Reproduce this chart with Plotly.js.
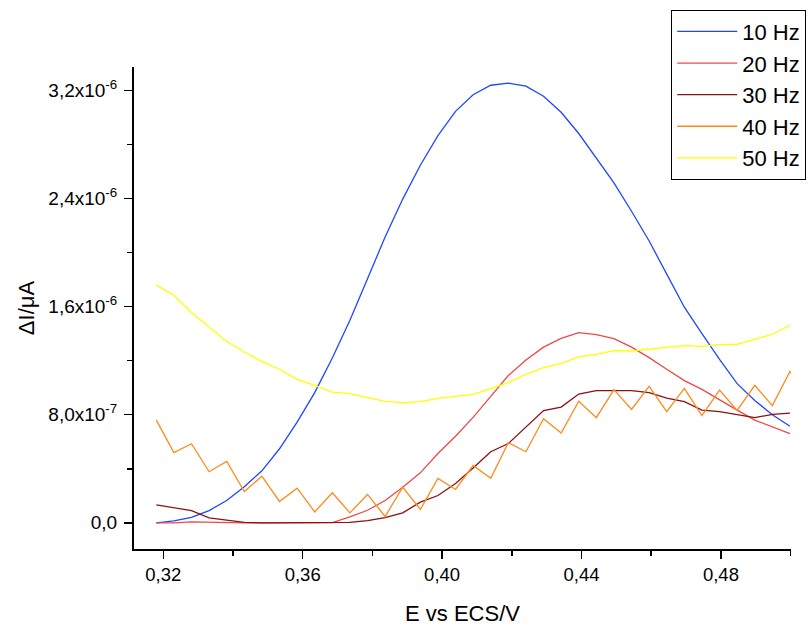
<!DOCTYPE html>
<html>
<head>
<meta charset="utf-8">
<script src="https://cdn.plot.ly/plotly-3.0.1.min.js"></script>
<style>html,body{margin:0;padding:0;background:#fff;}#chart{width:808px;height:628px;}</style>
</head>
<body>
<div id="chart"></div>
<script>
// Potential (V vs ECS)
const potential = [0.3180, 0.32305, 0.3281, 0.33315, 0.3382, 0.34325, 0.3483, 0.35335, 0.3584, 0.36345,
  0.3685, 0.37355, 0.3786, 0.38365, 0.3887, 0.39375, 0.3988, 0.40385, 0.4089, 0.41395,
  0.4190, 0.42405, 0.4291, 0.43415, 0.4392, 0.44425, 0.4493, 0.45435, 0.4594, 0.46445,
  0.4695, 0.47455, 0.4796, 0.48465, 0.4897, 0.49475, 0.4998, 0.50485];

const hz10 = [0.0e-7, 0.15e-7, 0.41e-7, 0.91e-7, 1.65e-7, 2.67e-7, 3.85e-7, 5.48e-7, 7.45e-7, 9.63e-7,
  12.2e-7, 14.99e-7, 18.05e-7, 21.15e-7, 23.95e-7, 26.45e-7, 28.64e-7, 30.44e-7, 31.67e-7, 32.37e-7,
  32.52e-7, 32.3e-7, 31.56e-7, 30.37e-7, 28.8e-7, 27.0e-7, 25.15e-7, 23.05e-7, 20.85e-7, 18.4e-7,
  15.95e-7, 14.0e-7, 12.1e-7, 10.3e-7, 9.05e-7, 8.0e-7, 7.15e-7];

const hz20 = [0.0e-7, 0.0e-7, 0.07e-7, 0.03e-7, 0.0e-7, 0.0e-7, 0.0e-7, 0.0e-7, 0.0e-7, 0.0e-7,
  0.02e-7, 0.44e-7, 0.93e-7, 1.65e-7, 2.64e-7, 3.7e-7, 5.13e-7, 6.41e-7, 7.8e-7, 9.35e-7,
  10.9e-7, 12.05e-7, 13.0e-7, 13.65e-7, 14.07e-7, 13.93e-7, 13.63e-7, 13.0e-7, 12.22e-7, 11.36e-7,
  10.52e-7, 9.87e-7, 9.08e-7, 8.34e-7, 7.6e-7, 7.1e-7, 6.6e-7];

const hz30 = [1.33e-7, 1.13e-7, 0.91e-7, 0.37e-7, 0.19e-7, 0.04e-7, 0.0e-7, 0.0e-7, 0.0e-7, 0.0e-7,
  0.0e-7, 0.04e-7, 0.17e-7, 0.39e-7, 0.74e-7, 1.53e-7, 2.02e-7, 2.91e-7, 4.05e-7, 5.26e-7,
  5.87e-7, 7.08e-7, 8.3e-7, 8.56e-7, 9.53e-7, 9.78e-7, 9.8e-7, 9.78e-7, 9.63e-7, 9.23e-7,
  8.96e-7, 8.34e-7, 8.22e-7, 8.02e-7, 7.78e-7, 8.02e-7, 8.12e-7];

const hz40 = [7.6e-7, 5.19e-7, 5.85e-7, 3.78e-7, 4.54e-7, 2.32e-7, 3.45e-7, 1.58e-7, 2.56e-7, 0.81e-7,
  2.22e-7, 0.74e-7, 2.1e-7, 0.47e-7, 2.64e-7, 0.99e-7, 3.28e-7, 2.47e-7, 4.24e-7, 3.3e-7,
  5.93e-7, 5.26e-7, 7.7e-7, 6.64e-7, 9.0e-7, 7.78e-7, 9.85e-7, 8.39e-7, 10.1e-7, 8.22e-7,
  9.95e-7, 7.93e-7, 9.82e-7, 8.32e-7, 10.17e-7, 8.67e-7, 11.2e-7, 9.3e-7];

const hz50 = [17.58e-7, 16.84e-7, 15.56e-7, 14.52e-7, 13.41e-7, 12.64e-7, 11.93e-7, 11.36e-7, 10.61e-7, 10.17e-7,
  9.67e-7, 9.56e-7, 9.26e-7, 8.99e-7, 8.89e-7, 8.96e-7, 9.21e-7, 9.33e-7, 9.5e-7, 9.93e-7,
  10.37e-7, 10.99e-7, 11.48e-7, 11.8e-7, 12.27e-7, 12.47e-7, 12.74e-7, 12.71e-7, 12.84e-7, 12.96e-7,
  13.11e-7, 13.06e-7, 13.19e-7, 13.21e-7, 13.58e-7, 13.95e-7, 14.61e-7];

const seriesNames = ['10 Hz', '20 Hz', '30 Hz', '40 Hz', '50 Hz'];
const seriesData = [hz10, hz20, hz30, hz40, hz50];
const seriesColors = ['#2046FF', '#F04848', '#8B1010', '#FF8A1C', '#FFFF00'];

const yTickVals = [0, 8e-7, 1.6e-6, 2.4e-6, 3.2e-6];
const yTickText = ['0,0', '8,0x10<sup>-7</sup>', '1,6x10<sup>-6</sup>', '2,4x10<sup>-6</sup>', '3,2x10<sup>-6</sup>'];

const traces = seriesData.map((vals, k) => ({
  type: 'scatter',
  mode: 'lines',
  name: seriesNames[k],
  x: potential.slice(0, vals.length),
  y: vals,
  line: {color: seriesColors[k], width: 1.3},
  hoverinfo: 'x+y+name'
}));

const font = 'Liberation Sans, Arial, sans-serif';

const layout = {
  width: 808,
  height: 628,
  margin: {l: 134, r: 17, t: 67, b: 79, pad: 0, autoexpand: false},
  paper_bgcolor: '#ffffff',
  plot_bgcolor: '#ffffff',
  separators: ',.',
  font: {family: font, color: '#000000', size: 18},
  showlegend: true,
  legend: {
    x: 0.8177, y: 1.119, xanchor: 'left', yanchor: 'top',
    bgcolor: '#ffffff', bordercolor: '#000000', borderwidth: 1,
    font: {family: font, size: 22, color: '#000000'},
    itemwidth: 60,
    tracegroupgap: 0
  },
  xaxis: {
    range: [0.3116, 0.5001],
    showgrid: false, zeroline: false,
    showline: true, linecolor: '#000000', linewidth: 2,
    ticks: 'outside', ticklen: 8, tickwidth: 1.5, tickcolor: '#000000',
    tick0: 0.32, dtick: 0.04, tickformat: '.2f',
    tickfont: {family: font, size: 18.5, color: '#000000'},
    minor: {ticks: 'outside', ticklen: 5, tickwidth: 1.5, tickcolor: '#000000', tick0: 0.34, dtick: 0.04, showgrid: false},
    title: {text: 'E vs ECS/V', font: {family: font, size: 22, color: '#000000'}, standoff: 21},
    automargin: false
  },
  yaxis: {
    range: [-1.935e-7, 3.372e-6],
    showgrid: false, zeroline: false,
    showline: true, linecolor: '#000000', linewidth: 2,
    ticks: 'outside', ticklen: 8, tickwidth: 1.5, tickcolor: '#000000',
    tickmode: 'array', tickvals: yTickVals, ticktext: yTickText,
    tickfont: {family: font, size: 19, color: '#000000'},
    ticklabelstandoff: 3,
    minor: {ticks: 'outside', ticklen: 5, tickwidth: 1.5, tickcolor: '#000000', tickmode: 'linear', tick0: 4e-7, dtick: 8e-7, showgrid: false},
    title: {text: 'ΔI/μA', font: {family: font, size: 22, color: '#000000'}, standoff: 8},
    automargin: false
  }
};

Plotly.newPlot('chart', traces, layout, {displayModeBar: false, staticPlot: true});
</script>
</body>
</html>
